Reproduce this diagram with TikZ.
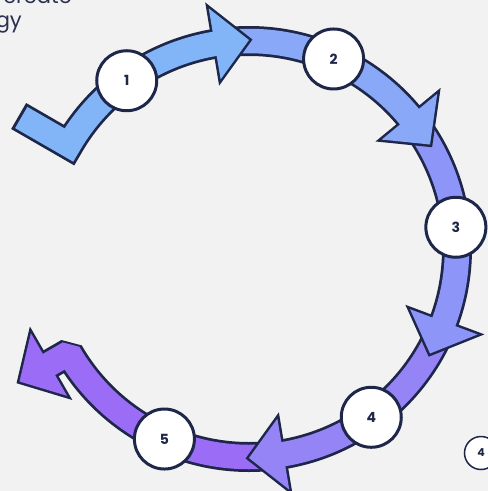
\documentclass[tikz,border=0pt]{standalone}
\usepackage{fontspec}
\setmainfont{Poppins}
\usepackage{tikz}

\definecolor{ink}{HTML}{1E2749}
\definecolor{paper}{HTML}{F2F2F2}
\definecolor{headtext}{HTML}{2A3150}
\definecolor{stepA}{HTML}{82B4F8}
\definecolor{stepB}{HTML}{89A8F8}
\definecolor{stepC}{HTML}{8D96F8}
\definecolor{stepD}{HTML}{9584F6}
\definecolor{stepE}{HTML}{9B6CF5}

\tikzset{
  rim/.style={draw=ink, line width=30pt},
  core/.style={line width=24.5pt},
  tipline/.style={draw=ink, fill=ink, line width=5pt, line join=miter},
  stepnum/.style={circle, draw=ink, line width=3pt, fill=white, minimum size=60pt,
    inner sep=0pt, text=ink, font=\fontsize{14}{14}\selectfont\bfseries},
  heading/.style={inner sep=0pt, text=headtext, font=\fontsize{21}{24}\selectfont}
}

\begin{document}
\begin{tikzpicture}[x=1pt,y=-1pt]
  \fill[paper] (0,0) rectangle (488,491);
  \useasboundingbox (0,0) rectangle (488,491);
  \node[heading, anchor=base east] (title) at (72,3) {create};
  \node[heading, anchor=base east] (subtitle) at (22,27) {gy};
  \begin{scope}[shift={(249,249)}]
    % step 5, last one, bent outwards
    \draw[rim, line join=bevel] (85:208) arc (85:150:208) -- (150:236);
    \filldraw[tipline] (150:265) -- (141.1:233.8) -- (158.9:233.8) -- cycle;
    \draw[core, stepE, line join=bevel] (85:208) arc (85:150:208) -- (150:236);
    \fill[stepE] (150:265) -- (141.1:233.8) -- (158.9:233.8) -- cycle;
    % step 4
    \draw[rim] (25:208) arc (25:83:208);
    \filldraw[tipline] (90:209) -- (80.5:172) -- (80.5:244) -- cycle;
    \draw[core, stepD] (25:208) arc (25:83:208);
    \fill[stepD] (90:209) -- (80.5:172) -- (80.5:244) -- cycle;
    % step 3
    \draw[rim] (-35:208) arc (-35:23:208);
    \filldraw[tipline] (30:209) -- (20.5:172) -- (20.5:244) -- cycle;
    \draw[core, stepC] (-35:208) arc (-35:23:208);
    \fill[stepC] (30:209) -- (20.5:172) -- (20.5:244) -- cycle;
    % step 2
    \draw[rim] (-95:208) arc (-95:-37:208);
    \filldraw[tipline] (-30:209) -- (-39.5:172) -- (-39.5:244) -- cycle;
    \draw[core, stepB] (-95:208) arc (-95:-37:208);
    \fill[stepB] (-30:209) -- (-39.5:172) -- (-39.5:244) -- cycle;
    % step 1, starts with the check mark
    \draw[rim, line join=miter] (-150:266) -- (-150:208) arc (-150:-97:208);
    \filldraw[tipline] (-90:209) -- (-99.5:172) -- (-99.5:244) -- cycle;
    \draw[core, stepA, line join=miter] (-150:263) -- (-150:208) arc (-150:-97:208);
    \fill[stepA] (-90:209) -- (-99.5:172) -- (-99.5:244) -- cycle;

    \node[stepnum] (n1) at (-126:208) {1};
    \node[stepnum] (n2) at (-66:208) {2};
    \node[stepnum] (n3) at (-6:208) {3};
    \node[stepnum] (n4) at (54:208) {4};
    \node[stepnum] (n5) at (114:208) {5};
  \end{scope}
  \node[circle, draw=ink, line width=1.5pt, fill=white, minimum size=33pt, inner sep=0pt,
    text=ink, font=\fontsize{11}{11}\selectfont\bfseries] (page) at (481,453) {4};
\end{tikzpicture}
\end{document}
